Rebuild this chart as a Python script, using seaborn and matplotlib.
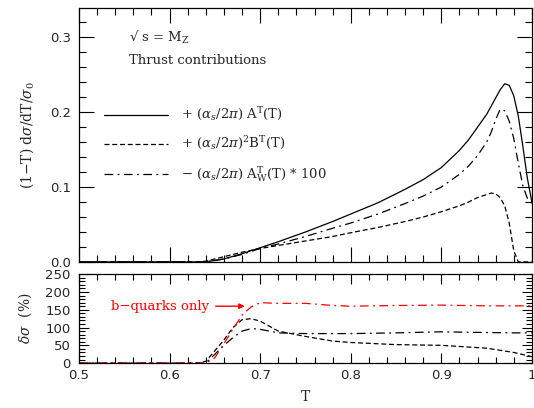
import numpy as np
import pandas as pd
import matplotlib
matplotlib.use("Agg")
import matplotlib.pyplot as plt
import seaborn as sns
from matplotlib.ticker import MultipleLocator

# upper panel data
T_up = [0.50, 0.60, 0.63, 0.64, 0.66, 0.68, 0.70, 0.72, 0.75, 0.78, 0.80, 0.83, 0.86,
        0.88, 0.90, 0.92, 0.93, 0.94, 0.95, 0.955, 0.96, 0.965, 0.97, 0.975, 0.98, 0.985,
        0.99, 0.995, 1.00]
A_T = [0, 0, 0, 0.000, 0.004, 0.011, 0.019, 0.027, 0.040, 0.054, 0.064, 0.079, 0.097,
       0.110, 0.126, 0.149, 0.163, 0.180, 0.197, 0.208, 0.219, 0.230, 0.238, 0.236, 0.222,
       0.195, 0.155, 0.112, 0.080]
B_T = [0, 0, 0, 0.001, 0.007, 0.013, 0.018, 0.022, 0.028, 0.034, 0.039, 0.046, 0.054,
       0.060, 0.067, 0.075, 0.080, 0.086, 0.090, 0.092, 0.091, 0.086, 0.075, 0.052, 0.015,
       0.0, 0.0, 0.0, 0.0]
AW_T = [0, 0, 0, 0.000, 0.004, 0.010, 0.018, 0.024, 0.034, 0.045, 0.052, 0.064, 0.078,
        0.088, 0.100, 0.117, 0.128, 0.142, 0.160, 0.173, 0.190, 0.204, 0.202, 0.188, 0.165,
        0.132, 0.102, 0.085, 0.078]

# lower panel data (percent)
T_lo = [0.50, 0.60, 0.63, 0.64, 0.65, 0.66, 0.67, 0.68, 0.69, 0.70, 0.72, 0.75, 0.78,
        0.80, 0.85, 0.90, 0.95, 0.98, 1.00]
dB = [0, 0, 0, 5, 35, 65, 100, 122, 125, 118, 90, 75, 62, 58, 52, 50, 42, 30, 18]
dAW = [0, 0, 0, 0, 25, 50, 72, 90, 97, 95, 85, 83, 83, 83, 85, 88, 86, 85, 85]
dAW_b = [0, 0, 0, 0, 15, 55, 95, 135, 158, 170, 168, 168, 162, 160, 162, 163, 161, 161, 161]

sns.set_style("ticks")
plt.rcParams["font.family"] = ["DejaVu Sans"]
plt.rcParams["mathtext.fontset"] = "dejavuserif"

fig = plt.figure(figsize=(5.34, 4.08), dpi=100)
ax1 = fig.add_axes([0.148, 0.358, 0.848, 0.622])
ax2 = fig.add_axes([0.148, 0.110, 0.848, 0.218])

dash = (0, (4, 2.2))
dashdot = (0, (7, 3.5, 1.5, 3.5))

df_up = pd.DataFrame({"T": T_up, "A": A_T, "B": B_T, "AW": AW_T})
sns.lineplot(data=df_up, x="T", y="A", ax=ax1, color="black", lw=0.9,
             label=r"+ $(\alpha_s/2\pi)\ \mathrm{A^T(T)}$")
sns.lineplot(data=df_up, x="T", y="B", ax=ax1, color="black", lw=0.9, linestyle=dash,
             label=r"+ $(\alpha_s/2\pi)^2\mathrm{B^T(T)}$")
sns.lineplot(data=df_up, x="T", y="AW", ax=ax1, color="black", lw=0.9, linestyle=dashdot,
             label=r"$-$ $(\alpha_s/2\pi)\ \mathrm{A^T_W(T)}$ $*$ 100")

df_lo = pd.DataFrame({"T": T_lo, "B": dB, "AW": dAW, "AWb": dAW_b})
sns.lineplot(data=df_lo, x="T", y="B", ax=ax2, color="black", lw=0.9, linestyle=dash)
sns.lineplot(data=df_lo, x="T", y="AW", ax=ax2, color="black", lw=0.9, linestyle=dashdot)
sns.lineplot(data=df_lo, x="T", y="AWb", ax=ax2, color="red", lw=0.9, linestyle=dashdot)

serif = ["DejaVu Serif"]
leg = ax1.legend(loc="upper left", bbox_to_anchor=(0.03, 0.66), frameon=False,
                 handlelength=4.8, handletextpad=1.0, labelspacing=0.9,
                 prop={"family": serif, "size": 9.5})

ax1.text(0.11, 0.885, "\u221a s = M$_\\mathrm{Z}$", transform=ax1.transAxes,
         family=serif, fontsize=9.5, va="center")
ax1.text(0.11, 0.795, "Thrust contributions", transform=ax1.transAxes,
         family=serif, fontsize=9.5, va="center")

ax2.annotate("b\u2212quarks only", xy=(0.683, 160), xytext=(0.59, 160),
             color="red", family=serif, fontsize=9.5, va="center", ha="center",
             arrowprops=dict(arrowstyle="-|>", color="red", lw=1.0,
                             mutation_scale=8, shrinkA=2, shrinkB=0))

for ax in (ax1, ax2):
    ax.set_xlim(0.5, 1.0)
    ax.xaxis.set_major_locator(MultipleLocator(0.1))
    ax.xaxis.set_minor_locator(MultipleLocator(0.02))
    ax.tick_params(which="both", direction="in", top=True, right=True, labelsize=9.5,
                   width=0.8, color="black", pad=6)
    for s in ax.spines.values():
        s.set_linewidth(0.9)
        s.set_color("black")

ax1.tick_params(which="major", length=11)
ax1.tick_params(which="minor", length=5)
ax2.tick_params(which="major", length=7.5)
ax2.tick_params(which="minor", length=4)

ax1.set_ylim(0, 0.339)
ax1.yaxis.set_major_locator(MultipleLocator(0.1))
ax1.yaxis.set_minor_locator(MultipleLocator(0.02))
ax1.set_yticks([0.0, 0.1, 0.2, 0.3])
ax1.set_yticklabels(["0.0", "0.1", "0.2", "0.3"])
ax1.tick_params(labelbottom=False)
ax1.set_xlabel("")
ax1.set_ylabel(r"(1$-$T) d$\sigma$/dT/$\sigma_0$", family=serif, fontsize=10, labelpad=10)

ax2.set_ylim(0, 250)
ax2.yaxis.set_major_locator(MultipleLocator(50))
ax2.yaxis.set_minor_locator(MultipleLocator(10))
ax2.set_xticks([0.5, 0.6, 0.7, 0.8, 0.9, 1.0])
ax2.set_xticklabels(["0.5", "0.6", "0.7", "0.8", "0.9", "1"])
ax2.tick_params(axis="x", pad=4)
ax2.set_xlabel("T", family=serif, fontsize=10, labelpad=6)
ax2.set_ylabel(r"$\delta\sigma$  (%)", family=serif, fontsize=10, labelpad=8)

fig.savefig("out.png", dpi=100)
